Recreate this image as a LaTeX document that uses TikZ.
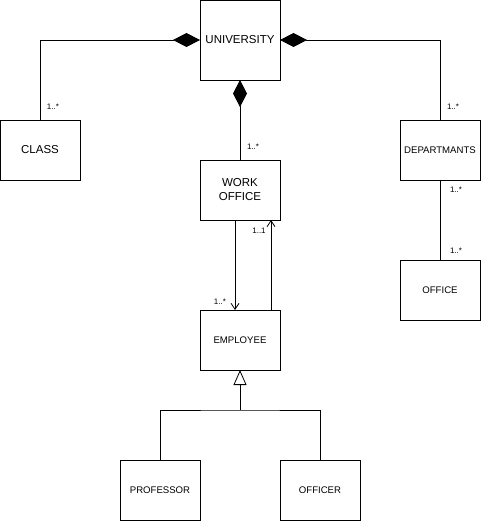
\documentclass[tikz,border=0pt]{standalone}
\usepackage{fontspec}
\setmainfont{Liberation Sans}
\usepackage{tikz}
\usetikzlibrary{positioning,arrows.meta}

\begin{document}
\begin{tikzpicture}[x=1pt, y=-1pt,
    cls/.style    ={draw=black, line width=0.8pt, minimum width=80pt, minimum height=60pt,
                    inner sep=0pt, outer sep=0pt, fill=white, font=\fontsize{9.6}{11}\selectfont, align=center},
    bigcls/.style ={cls, font=\fontsize{11.5}{14}\selectfont},
    link/.style   ={draw=black, line width=0.8pt},
    comp/.style   ={link, {Diamond[length=27pt,width=14pt]}-},
    nav/.style    ={link, -{Straight Barb[length=6pt,width=8pt,line width=0.8pt]}},
    gen/.style    ={link, -{Triangle[open,length=15pt,width=13pt,line width=0.8pt]}},
    mult/.style   ={font=\fontsize{8}{9}\selectfont, inner sep=0pt}
  ]
    \useasboundingbox (0,0) rectangle (481,521);
    % --- classes ---
    \node[bigcls, minimum height=80pt] (univ) at (240,40) {UNIVERSITY};
    \node[bigcls] (class) at (40,150)  {CLASS};
    \node[cls]    (dept)  at (440,150) {DEPARTMANTS};
    \node[bigcls] (work)  at (240,190) {WORK\\OFFICE};
    \node[cls]    (emp)   at (240,340) {EMPLOYEE};
    \node[cls]    (offc)  at (440,290) {OFFICE};
    \node[cls]    (prof)  at (160,490) {PROFESSOR};
    \node[cls]    (offr)  at (320,490) {OFFICER};

    % --- compositions of university ---
    \draw[comp] (univ.west) -| (class.north);
    \draw[comp] (univ.east) -| (dept.north);
    \draw[comp] (univ.south) -- (work.north);
    \node[mult] (mClass) at (53,107)  {1..*};
    \node[mult] (mDept)  at (453,107) {1..*};
    \node[mult] (mWork)  at (253,147) {1..*};

    % --- work office / employee ---
    \draw[nav] ([xshift=-5pt]work.south) -- ([xshift=-5pt]emp.north);
    \draw[nav] ([xshift=31pt]emp.north) -- ([xshift=31pt]work.south);
    \node[mult] (mEmp)  at (220,302) {1..*};
    \node[mult] (mWrk2) at (259,231) {1..1};

    % --- departments / office ---
    \draw[link] (dept.south) -- (offc.north);
    \node[mult] (mDept2) at (456,190) {1..*};
    \node[mult] (mOffc)  at (456,251) {1..*};

    % --- generalization ---
    \coordinate (join) at (240,410);
    \draw[link] (prof.north) |- (join) -| (offr.north);
    \draw[gen] (join) -- (emp.south);
\end{tikzpicture}
\end{document}
